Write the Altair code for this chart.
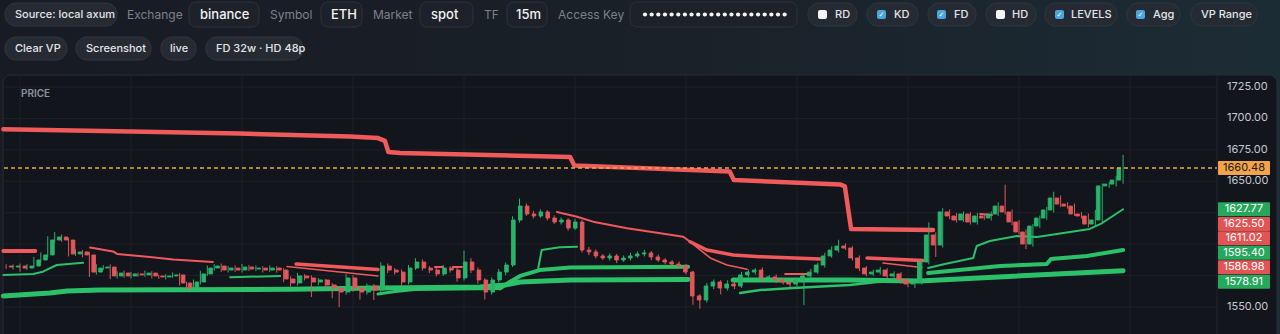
import altair as alt
import pandas as pd
import numpy as np

# ---------------- data ----------------
close = [
    1581.8, 1582.6, 1581.0, 1582.6, 1587.4, 1591.4, 1603.3, 1605.7, 1603.3, 1592.2,
    1593.8, 1591.4, 1577.8, 1581.0, 1581.8, 1574.7, 1577.0, 1574.7, 1576.3, 1575.5,
    1577.0, 1574.7, 1573.9, 1574.7, 1575.5, 1569.1, 1565.1, 1569.9, 1576.3, 1581.0,
    1582.6, 1579.4, 1581.0, 1579.4, 1581.8, 1580.2, 1581.0, 1579.4, 1581.0, 1579.4,
    1572.3, 1569.1, 1574.7, 1573.1, 1569.9, 1571.5, 1567.5, 1565.1, 1561.9, 1573.1,
    1565.1, 1561.9, 1566.7, 1563.5, 1582.6, 1579.4, 1577.8, 1569.9, 1581.0, 1585.8,
    1581.0, 1579.4, 1576.3, 1581.0, 1579.4, 1573.1, 1585.8, 1579.4, 1571.5, 1561.9,
    1571.5, 1577.8, 1583.4, 1619.2, 1630.3, 1624.0, 1622.4, 1625.6, 1620.8, 1617.6,
    1619.2, 1612.8, 1617.6, 1595.3, 1593.8, 1590.6, 1589.0, 1590.6, 1587.4, 1589.0,
    1590.6, 1592.2, 1593.0, 1589.8, 1587.4, 1585.8, 1584.2, 1582.6, 1577.8, 1558.8,
    1555.6, 1566.7, 1569.9, 1565.1, 1568.3, 1566.7, 1575.5, 1577.8, 1579.4, 1573.1,
    1573.9, 1571.5, 1569.9, 1568.3, 1571.5, 1574.7, 1577.8, 1583.4, 1590.6, 1595.3,
    1598.5, 1596.9, 1589.0, 1581.0, 1576.3, 1577.8, 1579.4, 1574.7, 1576.3, 1571.5,
    1568.3, 1569.9, 1585.8, 1607.3, 1599.3, 1625.6, 1622.4, 1619.2, 1624.0, 1617.6,
    1622.4, 1620.8, 1624.0, 1630.3, 1625.6, 1617.6, 1609.7, 1600.1, 1614.4, 1620.8,
    1627.2, 1636.7, 1631.9, 1630.3, 1624.0, 1622.4, 1616.0, 1619.2, 1646.3, 1647.8,
    1651.0, 1660.48,
]
wick_up = [
    1.5, 1.2, 2.0, 1.5, 2.5, 2.0, 3.0, 4.0, 2.0, 1.5,
    2.0, 1.5, 2.5, 3.0, 1.5, 2.0, 1.5, 2.0, 1.5, 1.0,
    2.0, 1.5, 1.0, 1.5, 2.0, 1.5, 1.0, 2.0, 2.5, 2.0,
    1.5, 2.0, 1.5, 2.0, 2.5, 1.5, 2.0, 1.5, 2.0, 1.5,
    1.5, 2.0, 2.5, 1.5, 2.0, 1.5, 1.0, 1.5, 1.0, 3.0,
    2.0, 1.5, 2.0, 1.5, 3.0, 2.0, 1.5, 2.0, 2.5, 3.0,
    2.0, 1.5, 2.0, 2.5, 1.5, 2.0, 9.0, 3.0, 2.0, 1.5,
    2.0, 2.5, 2.0, 3.0, 6.0, 2.0, 2.5, 2.0, 1.5, 2.0,
    2.0, 1.5, 2.5, 1.5, 2.5, 2.0, 1.5, 2.0, 1.5, 2.0,
    2.5, 2.0, 2.5, 1.5, 2.0, 1.5, 1.5, 2.0, 1.5, 1.0,
    1.5, 2.5, 2.0, 1.5, 3.0, 2.0, 2.5, 2.0, 1.5, 2.0,
    1.5, 2.0, 1.5, 2.0, 1.5, 2.0, 2.5, 2.0, 2.5, 3.0,
    5.0, 2.0, 1.5, 2.0, 1.5, 2.0, 2.5, 1.5, 2.0, 1.5,
    1.5, 2.0, 2.0, 10.0, 2.0, 3.0, 2.0, 2.5, 2.0, 1.5,
    2.5, 2.0, 2.0, 3.0, 17.0, 2.0, 1.5, 2.0, 1.5, 2.0,
    2.5, 5.0, 2.0, 1.5, 2.0, 1.5, 2.0, 8.0, 2.0, 1.5,
    3.0, 10.5,
]
wick_dn = [
    1.5, 2.0, 3.0, 1.5, 1.5, 2.0, 1.5, 2.0, 1.5, 2.0,
    1.5, 2.0, 4.0, 2.0, 1.5, 2.5, 2.0, 1.5, 2.0, 1.5,
    1.5, 2.0, 1.5, 2.0, 1.5, 2.0, 2.0, 1.5, 2.0, 1.5,
    2.0, 1.5, 2.0, 1.5, 2.0, 1.5, 1.5, 2.0, 1.5, 2.0,
    2.5, 3.0, 2.0, 2.0, 12.0, 2.5, 3.0, 8.0, 12.0, 2.0,
    3.0, 6.0, 2.0, 8.0, 2.0, 2.5, 2.0, 3.0, 2.0, 1.5,
    2.0, 2.5, 2.0, 1.5, 2.0, 3.0, 2.0, 2.5, 3.0, 6.0,
    2.0, 2.0, 2.5, 1.5, 2.0, 1.5, 2.0, 1.5, 2.0, 1.5,
    2.0, 2.0, 1.5, 2.0, 2.5, 2.0, 1.5, 2.0, 2.5, 1.5,
    2.0, 1.5, 2.0, 2.5, 1.5, 2.0, 2.0, 1.5, 2.0, 7.0,
    7.0, 2.0, 2.5, 5.0, 2.0, 2.5, 1.5, 2.0, 2.0, 2.5,
    2.0, 2.5, 2.0, 2.5, 2.0, 20.0, 2.0, 1.5, 2.0, 1.5,
    2.0, 1.5, 2.0, 2.5, 2.0, 1.5, 2.0, 2.5, 2.0, 3.0,
    2.5, 3.0, 2.0, 2.0, 9.5, 2.0, 2.5, 2.0, 1.5, 2.0,
    2.0, 1.5, 2.0, 1.5, 2.0, 2.5, 2.0, 4.0, 2.0, 1.5,
    1.5, 2.0, 2.5, 2.0, 1.5, 2.0, 2.5, 2.0, 2.0, 1.5,
    2.0, 3.0,
]
first_open = 1582.6

price_labels = [1725.0, 1700.0, 1675.0, 1650.0, 1550.0]
grid_prices = [1550, 1575, 1600, 1625, 1650, 1675, 1700, 1725]
hour_bars = [2, 18, 34, 50, 66, 82, 98, 114, 130, 146, 162]   # every 4h (16 x 15m)
last_price = 1660.48

tag_values = [1660.48, 1627.77, 1625.50, 1611.02, 1595.40, 1586.98, 1578.91]
tag_kind = ["last", "up", "down", "down", "up", "down", "up"]

# level lines: bar index / price pairs
R1_i = [-0.4, 17.9, 33.7, 49.6, 53.6, 54.6, 55.1, 56.8, 81.3, 81.9, 104.3, 104.9, 120.2, 120.9, 121.8, 133.6]
R1_p = [1691.4, 1689.6, 1688.0, 1685.6, 1684.4, 1682.1, 1673.3, 1672.5, 1669.3, 1662.6, 1657.8, 1651.0, 1647.5, 1645.9, 1612.0, 1611.3]
R2_i = [-0.4, 4.2]
R2_p = [1594.5, 1594.5]
R3_i = [12.1, 15.4, 16.0, 20.7, 24.1, 29.8]
R3_p = [1597.3, 1594.2, 1592.2, 1589.8, 1587.8, 1585.8]
R4_i = [41.8, 53.6]
R4_p = [1584.2, 1579.8]
R5_i = [40.5, 53.6]
R5_p = [1582.2, 1574.7]
R6_i = [79.4, 82.3, 84.6, 89.5, 94.3, 97.6, 98.6]
R6_p = [1625.5, 1621.8, 1617.9, 1612.6, 1608.6, 1605.9, 1601.9]
R7_i = [98.6, 101.0, 104.8, 108.7, 117.3]
R7_p = [1601.9, 1595.3, 1591.4, 1590.0, 1588.2]
R8_i = [98.6, 101.5, 103.9, 106.8]
R8_p = [1601.9, 1589.0, 1583.4, 1580.0]
R9_i = [124.1, 132.2]
R9_p = [1589.0, 1586.98]
R10_i = [126.4, 132.0]
R10_p = [1585.0, 1581.4]
R11_i = [112.3, 115.9]
R11_p = [1576.3, 1576.3]
R12_i = [61.8, 63.0]
R12_p = [1581.8, 1581.8]
R13_i = [64.4, 65.7]
R13_p = [1581.8, 1581.8]
R14_i = [140.4, 142.1]
R14_p = [1624.0, 1623.2]

G1a_i = [-0.4, 6.3, 8.8, 13.5, 40.9, 53.9, 68.3, 71.9, 74.1, 81.3, 98.3]
G1a_p = [1558.8, 1561.1, 1562.7, 1563.5, 1564.1, 1565.1, 1565.9, 1567.5, 1569.9, 1571.5, 1571.9]
G1b_i = [104.8, 121.6, 131.7, 161.0]
G1b_p = [1571.5, 1571.5, 1570.7, 1578.91]
G2_i = [-0.4, 3.9, 5.3, 7.3, 11.1]
G2_p = [1575.5, 1576.3, 1578.1, 1583.4, 1585.2]
G3_i = [32.3, 39.5]
G3_p = [1573.6, 1574.7]
G4_i = [53.6, 56.1, 58.9, 71.2]
G4_p = [1560.4, 1562.4, 1564.0, 1564.8]
G5_i = [71.2, 72.6, 74.1, 76.9, 81.3, 98.3]
G5_p = [1564.8, 1569.9, 1574.7, 1579.4, 1581.4, 1582.1]
G6_i = [76.7, 77.2, 79.8, 82.3]
G6_p = [1581.0, 1595.3, 1597.5, 1598.0]
G7_i = [105.8, 108.7, 113.4, 121.6, 125.5, 128.9]
G7_p = [1561.1, 1563.5, 1565.1, 1567.5, 1569.9, 1570.7]
G8_i = [132.9, 135.3, 139.4, 139.9, 141.8, 145.7, 148.6, 156.2, 158.0, 161.0]
G8_p = [1581.0, 1584.2, 1589.0, 1598.5, 1602.5, 1606.5, 1605.7, 1612.1, 1616.8, 1627.77]
G9_i = [132.9, 143.3, 150.0, 150.6, 155.8, 161.0]
G9_p = [1577.0, 1582.6, 1584.2, 1588.2, 1590.6, 1595.40]

# toolbar texts
pill_labels = ["Source: local axum", "RD", "KD", "FD", "HD", "LEVELS", "Agg", "VP Range",
               "Clear VP", "Screenshot", "live", "FD 32w \u00b7 HD 48p"]
field_labels = ["Exchange", "Symbol", "Market", "TF", "Access Key"]
field_values = ["binance", "ETH", "spot", "15m"]
key_length = 22                                        # masked access key characters
checkbox_on = [False, True, True, False, True, True]   # RD KD FD HD LEVELS Agg

# ---------------- layout / style ----------------
RED = "#f05a5a"
GREEN = "#2cc169"
UP = "#29b46c"
DOWN = "#e2575b"
FONT = "Inter"

LINE_STYLE = {
    "R1": (RED, 4.5), "R2": (RED, 4.0), "R3": (RED, 2.0), "R4": (RED, 3.5), "R5": (RED, 1.6),
    "R6": (RED, 2.0), "R7": (RED, 3.5), "R8": (RED, 1.6), "R9": (RED, 3.5), "R10": (RED, 1.6),
    "R11": (RED, 2.0), "R12": (RED, 2.0), "R13": (RED, 2.0), "R14": (RED, 2.0),
    "G1a": (GREEN, 5.0), "G1b": (GREEN, 5.0), "G2": (GREEN, 2.0), "G3": (GREEN, 2.0),
    "G4": (GREEN, 3.0), "G5": (GREEN, 4.0), "G6": (GREEN, 2.0), "G7": (GREEN, 2.5),
    "G8": (GREEN, 2.0), "G9": (GREEN, 4.0),
}
LINES = [
    ("G1a", G1a_i, G1a_p), ("G1b", G1b_i, G1b_p), ("G2", G2_i, G2_p), ("G3", G3_i, G3_p),
    ("G4", G4_i, G4_p), ("G5", G5_i, G5_p), ("G6", G6_i, G6_p), ("G7", G7_i, G7_p),
    ("G8", G8_i, G8_p), ("G9", G9_i, G9_p),
    ("R1", R1_i, R1_p), ("R2", R2_i, R2_p), ("R3", R3_i, R3_p), ("R4", R4_i, R4_p),
    ("R5", R5_i, R5_p), ("R6", R6_i, R6_p), ("R7", R7_i, R7_p), ("R8", R8_i, R8_p),
    ("R9", R9_i, R9_p), ("R10", R10_i, R10_p), ("R11", R11_i, R11_p), ("R12", R12_i, R12_p),
    ("R13", R13_i, R13_p), ("R14", R14_i, R14_p),
]
TAG_SHIFT = [0, 0, 12, 8, 2.7, 6.8, 11.1]
TAG_FILL = {"last": "#f2a34c", "up": "#25a85c", "down": "#e25454"}
TAG_TEXT = {"last": "#1a1a1a", "up": "#ffffff", "down": "#ffffff"}

ROW_Y = [(3, 26), (37, 60)]
PILL_BOX = [(5, 117, 0), (808, 857, 0), (867, 918, 0), (928, 976, 0), (986, 1036, 0),
            (1045, 1117, 0), (1127, 1180, 0), (1191, 1257, 0),
            (5, 67, 1), (76, 151, 1), (161, 196, 1), (206, 303, 1)]
PILL_TEXT_X = [15, 835, 894, 954, 1012, 1071, 1153, 1201, 15, 86, 170, 216]
FIELD_LABEL_X = [127, 270, 373, 484, 558]
FIELD_BOX = [(189, 259), (321, 362), (420, 473), (507, 547), (630, 797)]
FIELD_TEXT_X = [200, 331, 431, 516]
KEY_DOT_X0, KEY_DOT_STEP = 645, 6.65
CHECK_X = [818, 877, 937, 996, 1055, 1136]

PX = alt.Scale(domain=[0, 1280], range=[0, 1280], nice=False, zero=False)
PY = alt.Scale(domain=[0, 334], range=[0, 334], nice=False, zero=False)
BW = 6.9375
X0 = 6.125
XS = alt.Scale(domain=[0, 174], range=[X0, X0 + 174 * BW], nice=False, zero=False)
YS = alt.Scale(domain=[1528, 1735], range=[334.66, 74.44], nice=False, zero=False)


def ui_rect(df, **mk):
    return alt.Chart(df).mark_rect(**mk).encode(
        x=alt.X("x0:Q", scale=PX, axis=None), x2="x1:Q",
        y=alt.Y("y0:Q", scale=PY, axis=None), y2="y1:Q")


def ui_text(df, **mk):
    return alt.Chart(df).mark_text(baseline="middle", font=FONT, **mk).encode(
        x=alt.X("x:Q", scale=PX, axis=None), y=alt.Y("y:Q", scale=PY, axis=None), text="t:N")


layers = []

# page background and panel
layers.append(ui_rect(pd.DataFrame({"x0": [0], "x1": [1280], "y0": [0], "y1": [334]}),
                      color=alt.Gradient(gradient="linear", x1=0, x2=1, y1=0, y2=0,
                                         stops=[alt.GradientStop(color="#181b23", offset=0),
                                                alt.GradientStop(color="#1a2129", offset=0.55),
                                                alt.GradientStop(color="#1c2c35", offset=1)])))
layers.append(ui_rect(pd.DataFrame({"x0": [3], "x1": [1277], "y0": [75], "y1": [350]}),
                      fill="#12151c", stroke="#282d37", strokeWidth=1, cornerRadius=8))

# toolbar
pill_df = pd.DataFrame({"x0": [b[0] for b in PILL_BOX], "x1": [b[1] for b in PILL_BOX],
                        "y0": [ROW_Y[b[2]][0] for b in PILL_BOX], "y1": [ROW_Y[b[2]][1] for b in PILL_BOX]})
layers.append(ui_rect(pill_df, fill="#252a33", stroke="#31363f", strokeWidth=1, cornerRadius=11))
field_df = pd.DataFrame({"x0": [b[0] for b in FIELD_BOX], "x1": [b[1] for b in FIELD_BOX],
                         "y0": [2] * 5, "y1": [27] * 5})
layers.append(ui_rect(field_df, fill="#1d2129", stroke="#2d323c", strokeWidth=1, cornerRadius=7))
chk_df = pd.DataFrame({"x0": CHECK_X, "x1": [c + 9 for c in CHECK_X], "y0": [10] * 6, "y1": [19] * 6,
                       "col": ["#4aa6de" if on else "#f3f4f6" for on in checkbox_on]})
layers.append(ui_rect(chk_df, cornerRadius=2).encode(color=alt.Color("col:N", scale=None)))
tick_df = pd.DataFrame({"x": [c + 4.5 for c, on in zip(CHECK_X, checkbox_on) if on],
                        "y": [14.8] * sum(checkbox_on), "t": ["\u2713"] * sum(checkbox_on)})
layers.append(alt.Chart(tick_df).mark_text(baseline="middle", align="center", font="DejaVu Sans",
                                           fontSize=7, fontWeight="bold", color="#ffffff").encode(
    x=alt.X("x:Q", scale=PX, axis=None), y=alt.Y("y:Q", scale=PY, axis=None), text="t:N"))

pill_txt = pd.DataFrame({"x": PILL_TEXT_X, "t": pill_labels,
                         "y": [(ROW_Y[b[2]][0] + ROW_Y[b[2]][1]) / 2 + 0.5 for b in PILL_BOX]})
layers.append(ui_text(pill_txt, align="left", fontSize=11, fontWeight=500, color="#e3e5e9"))
flab = pd.DataFrame({"x": FIELD_LABEL_X, "y": [15] * 5, "t": field_labels})
layers.append(ui_text(flab, align="left", fontSize=12, color="#7c818b"))
fval = pd.DataFrame({"x": FIELD_TEXT_X, "y": [15] * 4, "t": field_values})
layers.append(ui_text(fval, align="left", fontSize=13, fontWeight=500, color="#f2f3f5"))
dots = pd.DataFrame({"x": [KEY_DOT_X0 + k * KEY_DOT_STEP for k in range(key_length)], "y": [14.5] * key_length})
layers.append(alt.Chart(dots).mark_circle(size=18, opacity=1, color="#f2f3f5").encode(
    x=alt.X("x:Q", scale=PX, axis=None), y=alt.Y("y:Q", scale=PY, axis=None)))

# grid
gp = pd.DataFrame({"p": grid_prices})
layers.append(alt.Chart(gp).mark_rule(color="#1c2029", strokeWidth=1).encode(
    y=alt.Y("p:Q", scale=YS, axis=None), x=alt.value(4), x2=alt.value(1217)))
gv = pd.DataFrame({"i": hour_bars})
layers.append(alt.Chart(gv).mark_rule(color="#1c2029", strokeWidth=1).encode(
    x=alt.X("i:Q", scale=XS, axis=None), y=alt.value(76), y2=alt.value(334)))
layers.append(alt.Chart(pd.DataFrame({"a": [0]})).mark_rule(color="#20252f", strokeWidth=1).encode(
    x=alt.value(1217), y=alt.value(76), y2=alt.value(334)))

# PRICE label
layers.append(alt.Chart(pd.DataFrame({"t": ["PRICE"]})).mark_text(
    align="left", baseline="middle", font=FONT, fontSize=10, fontWeight=600, color="#8c929c").encode(
    x=alt.value(21), y=alt.value(94), text="t:N"))

# level lines
rows = []
for name, xs, ps in LINES:
    col, w = LINE_STYLE[name]
    for k, (a, b) in enumerate(zip(xs, ps)):
        rows.append({"name": name, "k": k, "i": a, "p": b, "col": col, "w": w})
df_l = pd.DataFrame(rows)
layers.append(alt.Chart(df_l).mark_line(strokeCap="round", strokeJoin="round").encode(
    x=alt.X("i:Q", scale=XS, axis=None), y=alt.Y("p:Q", scale=YS, axis=None),
    detail="name:N", order="k:Q",
    color=alt.Color("col:N", scale=None), strokeWidth=alt.StrokeWidth("w:Q", scale=None)))

# candles
n = len(close)
opens = [first_open] + close[:-1]
df_c = pd.DataFrame({"i": list(range(n)), "o": opens, "c": close})
df_c["h"] = np.maximum(df_c["o"], df_c["c"]) + np.array(wick_up)
df_c["l"] = np.minimum(df_c["o"], df_c["c"]) - np.array(wick_dn)
df_c["col"] = np.where(df_c["c"] >= df_c["o"], UP, DOWN)
layers.append(alt.Chart(df_c).mark_rule(strokeWidth=1).encode(
    x=alt.X("i:Q", scale=XS, axis=None), y=alt.Y("l:Q", scale=YS, axis=None), y2="h:Q",
    color=alt.Color("col:N", scale=None)))
layers.append(alt.Chart(df_c).mark_bar(size=3.6, strokeWidth=0.9).encode(
    x=alt.X("i:Q", scale=XS, axis=None), y=alt.Y("o:Q", scale=YS, axis=None), y2="c:Q",
    color=alt.Color("col:N", scale=None), stroke=alt.Stroke("col:N", scale=None)))

# last price dashed line
layers.append(alt.Chart(pd.DataFrame({"p": [last_price]})).mark_rule(
    color="#eaa64c", strokeDash=[4, 3], strokeWidth=1.5).encode(
    y=alt.Y("p:Q", scale=YS, axis=None), x=alt.value(4), x2=alt.value(1217)))

# axis labels
ax = pd.DataFrame({"p": price_labels, "t": [f"{v:.2f}" for v in price_labels]})
layers.append(alt.Chart(ax).mark_text(align="left", baseline="middle", font=FONT, fontSize=11,
                                      color="#c5c9d0").encode(
    x=alt.value(1227), y=alt.Y("p:Q", scale=YS, axis=None), text="t:N"))

# price tags
for v, kind, sh in zip(tag_values, tag_kind, TAG_SHIFT):
    d = pd.DataFrame({"p": [v], "t": [f"{v:.2f}"]})
    layers.append(alt.Chart(d).mark_rect(fill=TAG_FILL[kind], yOffset=sh - 7, y2Offset=sh + 7,
                                         cornerRadius=1).encode(
        x=alt.value(1218), x2=alt.value(1270), y=alt.Y("p:Q", scale=YS, axis=None), y2="p:Q"))
    layers.append(alt.Chart(d).mark_text(align="center", baseline="middle", font=FONT, fontSize=11,
                                         dy=sh, color=TAG_TEXT[kind]).encode(
        x=alt.value(1244), y=alt.Y("p:Q", scale=YS, axis=None), text="t:N"))

chart = alt.layer(*layers).resolve_scale(x="independent", y="independent").properties(
    width=1280, height=334, padding=0, autosize=alt.AutoSizeParams(type="none"),
    background="#171a22",
).configure_view(stroke=None)

chart.save("out.html", embed_options={"renderer": "svg", "actions": False})
